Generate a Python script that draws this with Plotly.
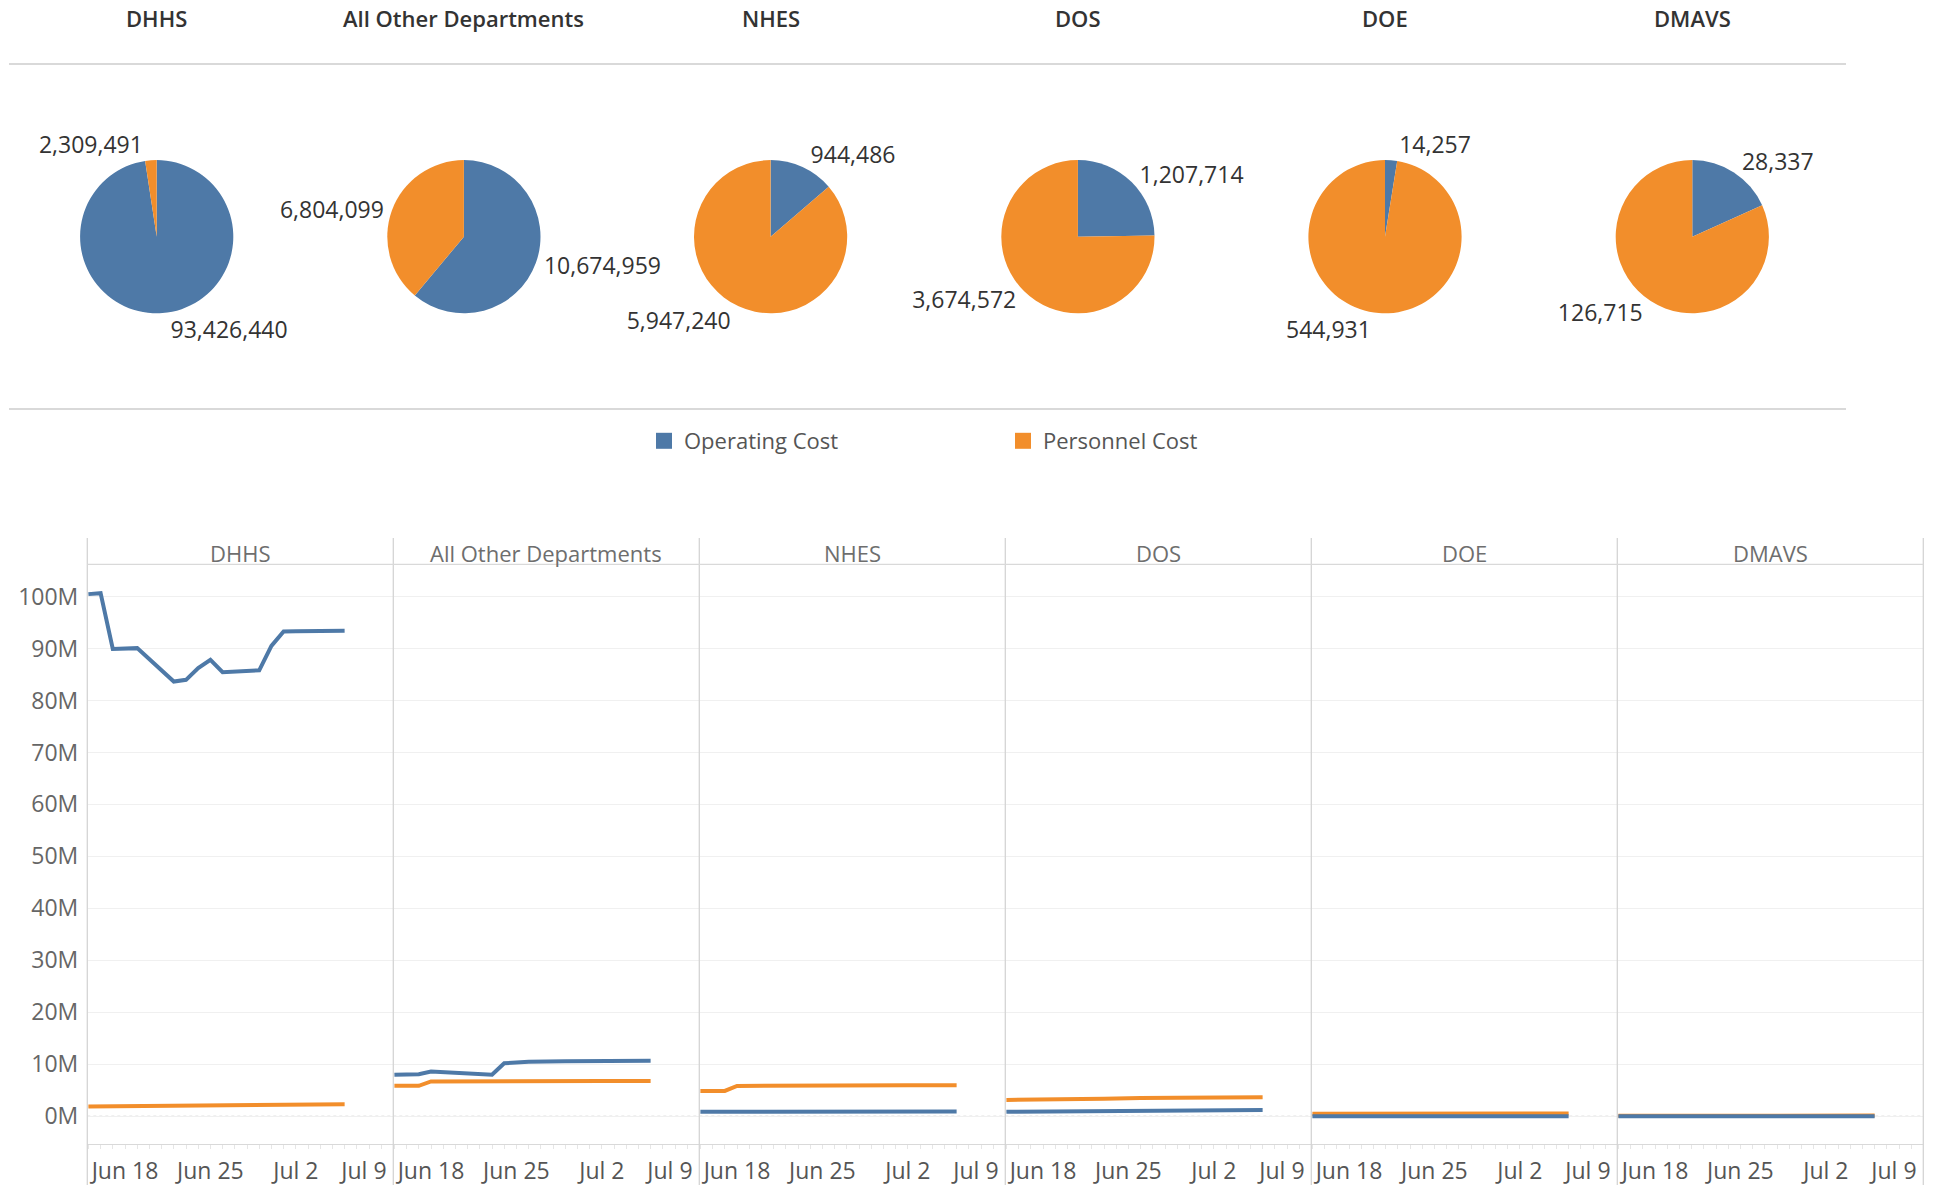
import plotly.graph_objects as go

# ---------------- data ----------------
departments = ["DHHS", "All Other Departments", "NHES", "DOS", "DOE", "DMAVS"]
cost_types = ["Operating Cost", "Personnel Cost"]

# latest totals shown in the pies
pie_operating = [93426440, 10674959, 944486, 1207714, 14257, 28337]
pie_personnel = [2309491, 6804099, 5947240, 3674572, 544931, 126715]

dates = ["2020-06-15", "2020-06-16", "2020-06-17", "2020-06-18", "2020-06-19",
         "2020-06-22", "2020-06-23", "2020-06-24", "2020-06-25", "2020-06-26",
         "2020-06-29", "2020-06-30", "2020-07-01", "2020-07-02", "2020-07-06"]

# daily totals, in millions
dhhs_operating = [100.46, 100.65, 89.90, 89.98, 90.07, 83.64, 83.97, 86.22, 87.82, 85.45,
                  85.80, 90.50, 93.26, 93.30, 93.43]
dhhs_personnel = [1.86, 1.88, 1.90, 1.92, 1.94, 1.97, 2.00, 2.02, 2.05, 2.08,
                  2.12, 2.16, 2.20, 2.25, 2.31]
other_operating = [7.98, 7.98, 8.10, 8.60, 8.50, 8.15, 7.98, 10.20, 10.35, 10.50,
                   10.60, 10.62, 10.64, 10.65, 10.67]
other_personnel = [5.87, 5.87, 5.87, 6.70, 6.72, 6.74, 6.75, 6.76, 6.77, 6.78,
                   6.78, 6.79, 6.80, 6.80, 6.80]
nhes_operating = [0.88, 0.89, 0.90, 0.90, 0.91, 0.91, 0.92, 0.92, 0.93, 0.93,
                  0.93, 0.94, 0.94, 0.94, 0.944]
nhes_personnel = [4.87, 4.87, 4.87, 5.85, 5.87, 5.88, 5.89, 5.90, 5.91, 5.92,
                  5.93, 5.94, 5.94, 5.95, 5.947]
dos_operating = [0.85, 0.87, 0.90, 0.92, 0.95, 0.97, 1.00, 1.02, 1.05, 1.08,
                 1.10, 1.13, 1.15, 1.18, 1.208]
dos_personnel = [3.15, 3.20, 3.25, 3.30, 3.32, 3.35, 3.38, 3.40, 3.50, 3.52,
                 3.55, 3.58, 3.60, 3.63, 3.675]
doe_operating = [0.012, 0.012, 0.012, 0.013, 0.013, 0.013, 0.013, 0.013, 0.013, 0.014,
                 0.014, 0.014, 0.014, 0.014, 0.014]
doe_personnel = [0.500, 0.505, 0.510, 0.515, 0.520, 0.522, 0.525, 0.528, 0.530, 0.533,
                 0.535, 0.538, 0.540, 0.542, 0.545]
dmavs_operating = [0.025, 0.025, 0.026, 0.026, 0.026, 0.026, 0.027, 0.027, 0.027, 0.027,
                   0.027, 0.028, 0.028, 0.028, 0.028]
dmavs_personnel = [0.115, 0.116, 0.117, 0.118, 0.118, 0.119, 0.120, 0.121, 0.122, 0.123,
                   0.124, 0.125, 0.126, 0.126, 0.127]

operating_series = [dhhs_operating, other_operating, nhes_operating, dos_operating,
                    doe_operating, dmavs_operating]
personnel_series = [dhhs_personnel, other_personnel, nhes_personnel, dos_personnel,
                    doe_personnel, dmavs_personnel]

y_tick_vals = [0, 10, 20, 30, 40, 50, 60, 70, 80, 90, 100]
y_tick_text = ["0M", "10M", "20M", "30M", "40M", "50M", "60M", "70M", "80M", "90M", "100M"]
x_tick_text = ["Jun 18", "Jun 25", "Jul 2", "Jul 9"]

# ---------------- style / layout ----------------
W, H = 1933, 1185
BLUE, ORANGE = "#4E79A7", "#F28E2B"
colors = {"Operating Cost": BLUE, "Personnel Cost": ORANGE}
FONT = "Open Sans"

def px_x(p):
    return p / W

def px_y(p):
    return 1 - p / H

fig = go.Figure()

# ---- pies ----
pie_cx = [156.7, 463.9, 770.6, 1077.9, 1385.0, 1692.3]
pie_cy, pie_r = 236.7, 76.6
for i, dept in enumerate(departments):
    cx = pie_cx[i]
    fig.add_trace(go.Pie(
        labels=cost_types,
        values=[pie_operating[i], pie_personnel[i]],
        marker=dict(colors=[BLUE, ORANGE], line=dict(width=0)),
        sort=False, direction="clockwise", rotation=0,
        textposition="outside", texttemplate="%{value:,.0f}",
        outsidetextfont=dict(family=FONT, size=23, color="#333333"),
        domain=dict(x=[px_x(cx - pie_r), px_x(cx + pie_r)],
                    y=[px_y(pie_cy + pie_r), px_y(pie_cy - pie_r)]),
        showlegend=False, hoverinfo="skip",
    ))

# ---- line panels ----
panel_left0, panel_w = 87.3, 306.0
plot_top, plot_bot = 564.3, 1144.3
x_range = ["2020-06-14 21:50", "2020-07-09 23:45"]
x_tick_vals = ["2020-06-18", "2020-06-25", "2020-07-02", "2020-07-07 14:00"]

layout_axes = {}
for i, dept in enumerate(departments):
    xa = "x" if i == 0 else f"x{i + 1}"
    for name, series in (("Personnel Cost", personnel_series[i]),
                         ("Operating Cost", operating_series[i])):
        fig.add_trace(go.Scatter(
            x=dates, y=series, mode="lines", name=name,
            line=dict(color=colors[name], width=4),
            xaxis=xa, yaxis="y", showlegend=False, hoverinfo="skip",
        ))
    left = panel_left0 + i * panel_w
    key = "xaxis" if i == 0 else f"xaxis{i + 1}"
    layout_axes[key] = dict(
        domain=[px_x(left), px_x(left + panel_w)],
        anchor="y", type="date", range=x_range,
        tickmode="array", tickvals=x_tick_vals, ticktext=x_tick_text,
        ticks="", showgrid=False, zeroline=False,
        showline=True, linecolor="#d9d9d9", linewidth=1,
        tickfont=dict(family=FONT, size=23, color="#555555"),
        ticklabelstandoff=6,
        minor=dict(ticks="outside", ticklen=4, tickcolor="#e6e6e6", tickwidth=1,
                   tick0="2020-06-15", dtick=86400000, showgrid=False),
        fixedrange=True,
    )

layout_axes["yaxis"] = dict(
    domain=[px_y(plot_bot), px_y(plot_top)], anchor="x",
    range=[-5.39, 106.2], tickmode="array",
    tickvals=y_tick_vals, ticktext=y_tick_text,
    showgrid=True, gridcolor="#f0f0f0", gridwidth=1, zeroline=False,
    showline=False, ticks="", ticklabelstandoff=8,
    tickfont=dict(family=FONT, size=23, color="#666666"),
)

# legend entries
for name in cost_types:
    fig.add_trace(go.Scatter(
        x=[None], y=[None], mode="markers", name=name,
        marker=dict(symbol="square", size=16, color=colors[name]),
        xaxis="x", yaxis="y", showlegend=True, hoverinfo="skip",
    ))

shapes = []
# separators in top section
for yy in (64, 409):
    shapes.append(dict(type="line", xref="paper", yref="paper",
                       x0=px_x(9), x1=px_x(1846), y0=px_y(yy), y1=px_y(yy),
                       line=dict(color="#d9d9d9", width=2)))
# panel dividers
for i in range(len(departments) + 1):
    xx = panel_left0 + i * panel_w
    shapes.append(dict(type="line", xref="paper", yref="paper",
                       x0=px_x(xx), x1=px_x(xx), y0=px_y(538), y1=0,
                       line=dict(color="#d4d4d4", width=1.3)))
# header bottom line
shapes.append(dict(type="line", xref="paper", yref="paper",
                   x0=px_x(panel_left0), x1=px_x(panel_left0 + 6 * panel_w),
                   y0=px_y(plot_top), y1=px_y(plot_top),
                   line=dict(color="#d9d9d9", width=1.3)))
# dotted zero line
shapes.append(dict(type="line", xref="paper", yref="y",
                   x0=px_x(panel_left0), x1=px_x(panel_left0 + 6 * panel_w),
                   y0=0, y1=0, layer="below",
                   line=dict(color="#bdbdbd", width=1, dash="dot")))

annotations = []
for i, dept in enumerate(departments):
    annotations.append(dict(
        text=dept, xref="paper", yref="paper", x=px_x(pie_cx[i]), y=px_y(18),
        xanchor="center", yanchor="middle", showarrow=False,
        font=dict(family=FONT, size=22, color="#333333", weight=600)))
    annotations.append(dict(
        text=dept, xref="paper", yref="paper",
        x=px_x(panel_left0 + i * panel_w + panel_w / 2), y=px_y(553),
        xanchor="center", yanchor="middle", showarrow=False,
        font=dict(family=FONT, size=22, color="#6e6e6e")))

fig.update_layout(
    width=W, height=H,
    margin=dict(l=0, r=0, t=0, b=0),
    paper_bgcolor="white", plot_bgcolor="white",
    font=dict(family=FONT, color="#555555"),
    shapes=shapes, annotations=annotations,
    legend=dict(orientation="h", x=px_x(644), y=px_y(441),
                xanchor="left", yanchor="middle",
                entrywidth=314, entrywidthmode="pixels",
                font=dict(family=FONT, size=22, color="#555555"),
                bgcolor="rgba(0,0,0,0)"),
    **layout_axes,
)

fig.write_html("out.html", config={"displayModeBar": False},
               post_script="document.body.style.margin='0';")
